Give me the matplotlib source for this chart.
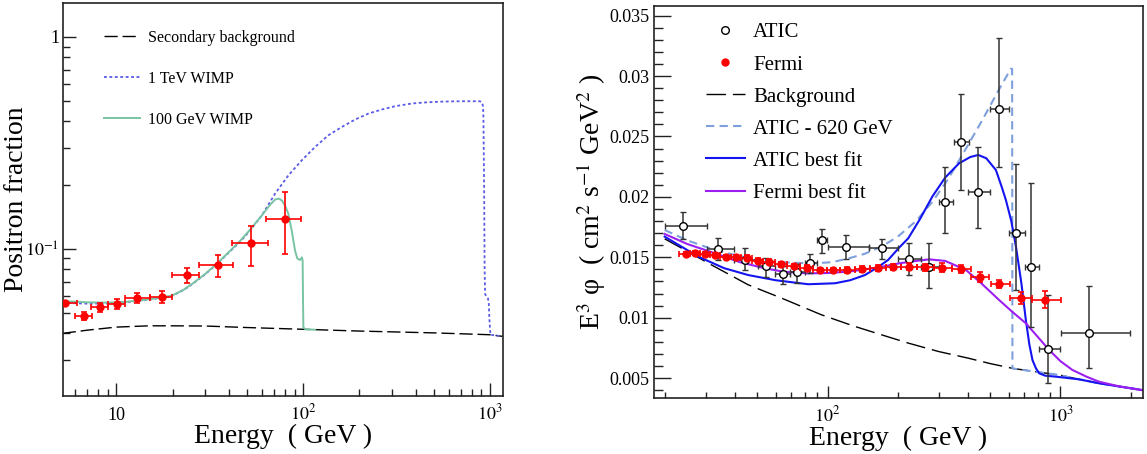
import matplotlib
matplotlib.use('Agg')
import matplotlib.pyplot as plt
from matplotlib.ticker import FuncFormatter, LogLocator, NullFormatter, MultipleLocator, FixedLocator
from matplotlib.lines import Line2D
import numpy as np

plt.rcParams['font.family'] = ['Liberation Serif', 'DejaVu Serif']
plt.rcParams['mathtext.fontset'] = 'stix'

# ---------------- Left panel data (positron fraction) ----------------
pamela_E = [5.31, 6.75, 8.18, 10.1, 12.95, 17.5, 23.8, 35.0, 52.7, 80.2]
pamela_frac = [0.0553, 0.0483, 0.0529, 0.0546, 0.0587, 0.0590, 0.0749, 0.0838, 0.1064, 0.138]
pamela_Elo = [5.17, 6.01, 7.30, 9.06, 11.14, 15.1, 19.9, 27.8, 41.4, 62.9]
pamela_Ehi = [6.14, 7.38, 9.06, 11.17, 15.1, 19.9, 27.8, 42.3, 64.8, 97.9]
pamela_lo = [0.0540, 0.0461, 0.0504, 0.0518, 0.0556, 0.0553, 0.0692, 0.0738, 0.0831, 0.0944]
pamela_hi = [0.0568, 0.0504, 0.0553, 0.0577, 0.0620, 0.0633, 0.0808, 0.0933, 0.128, 0.185]

sec_E = [5.17, 7, 10, 15, 20, 30, 50, 100, 200, 500, 1000, 1170]
sec_frac = [0.0399, 0.0413, 0.0427, 0.0433, 0.0433, 0.0432, 0.0425, 0.0417, 0.0409, 0.0401, 0.0393, 0.0386]

tev_E = [5.17, 7, 9, 11, 13, 15.5, 18, 20, 23, 26, 30, 34.4, 40, 46, 52, 60.2, 70.9, 83.6, 98.5,
         116.1, 136.9, 161.3, 190, 224, 264, 311, 382, 469, 576, 693, 881, 905, 918, 922, 930,
         936, 942, 955, 975, 985, 992, 1005, 1170]
tev_frac = [0.0556, 0.0551, 0.0552, 0.0558, 0.0567, 0.0578, 0.0590, 0.0601, 0.0640, 0.0690, 0.0760,
            0.0844, 0.0960, 0.108, 0.122, 0.144, 0.1825, 0.2227, 0.262, 0.303, 0.344, 0.376, 0.4076,
            0.435, 0.4544, 0.471, 0.485, 0.492, 0.4956, 0.497, 0.497, 0.492, 0.470, 0.420, 0.200,
            0.080, 0.0610, 0.0600, 0.0583, 0.0560, 0.0470, 0.0393, 0.0386]

gev_E = [5.17, 7, 9, 11, 13, 15.5, 18, 20, 23, 26, 30, 34.4, 40, 46, 52, 60.2, 66, 70.9, 74, 77,
         80, 83.2, 86.8, 90.4, 93, 96.1, 98.5, 99.4, 99.8, 100.3, 103, 116]
gev_frac = [0.0567, 0.0559, 0.0557, 0.0561, 0.0569, 0.0580, 0.0592, 0.0603, 0.0642, 0.0692, 0.0763,
            0.0847, 0.0965, 0.109, 0.123, 0.144, 0.160, 0.171, 0.1725, 0.169, 0.160, 0.147, 0.1226,
            0.0986, 0.0901, 0.0885, 0.0911, 0.088, 0.060, 0.0425, 0.0417, 0.0415]

# ---------------- Right panel data (E^3 flux) ----------------
atic_E = [23.9, 34.0, 44.2, 54.2, 64.1, 74.1, 84.5, 94.3, 119.5, 171.8, 222.7, 273.3, 320, 373.8,
          442, 542, 644, 746, 888, 1328]
atic_val = [0.01759, 0.01566, 0.01478, 0.01428, 0.01362, 0.01376, 0.0145, 0.01643, 0.01588, 0.01575,
            0.01486, 0.01422, 0.01955, 0.02457, 0.02041, 0.02728, 0.01699, 0.01422, 0.00741, 0.0087]
atic_Elo = [20.0, 30.3, 39.7, 50.4, 59.4, 69.0, 80.0, 89.7, 100.7, 150.6, 201, 253, 301, 350, 399,
            498, 603, 706, 810, 1003]
atic_Ehi = [30.3, 39.7, 50.4, 59.4, 69.0, 80.0, 89.7, 99.0, 150.6, 201, 252, 300, 347, 403, 498,
            599, 706, 810, 998, 1991]
atic_lo = [0.01649, 0.01478, 0.01395, 0.01340, 0.01277, 0.0129, 0.01373, 0.01538, 0.01483, 0.01483,
           0.01353, 0.01243, 0.0170, 0.02057, 0.0174, 0.02245, 0.01229, 0.0092, 0.00457, 0.00581]
atic_hi = [0.01873, 0.01657, 0.01575, 0.01492, 0.01428, 0.01442, 0.01525, 0.01732, 0.01685, 0.01654,
           0.01621, 0.01616, 0.0225, 0.02852, 0.02411, 0.03313, 0.0227, 0.02113, 0.01188, 0.01265]

fermi_E = [24.6, 27.0, 29.9, 32.9, 36.5, 40.3, 45.2, 50.1, 56.2, 63.1, 71.7, 81.3, 92.6, 105.8,
           121.8, 140.9, 165.2, 191.5, 224.3, 262.7, 309.6, 374.7, 450.9, 544, 676, 860]
fermi_val = [0.01525, 0.01533, 0.01525, 0.01519, 0.01505, 0.01505, 0.01497, 0.01472, 0.01464,
             0.01442, 0.01428, 0.01414, 0.01395, 0.01395, 0.01395, 0.01403, 0.01414, 0.01422,
             0.01422, 0.01417, 0.01414, 0.01401, 0.01339, 0.01279, 0.01161, 0.01147]
fermi_Elo = [23.0, 25.8, 28.4, 31.4, 34.6, 38.4, 42.7, 47.6, 53.1, 59.5, 67.2, 76.3, 86.8, 99.0,
             113.5, 131.0, 152.6, 177.9, 207.3, 242.7, 285.2, 340.6, 412, 502, 608, 758]
fermi_Ehi = [25.8, 28.4, 31.4, 34.6, 38.4, 42.7, 47.6, 53.1, 59.5, 67.2, 76.3, 86.8, 99.0, 113.5,
             131.0, 152.6, 177.9, 207.3, 242.7, 285.2, 340.6, 412, 494, 608, 758, 1009]
fermi_err = [0.00015, 0.00015, 0.00015, 0.00015, 0.00018, 0.00018, 0.00018, 0.0002, 0.0002, 0.0002,
             0.0002, 0.0002, 0.0002, 0.0002, 0.00022, 0.00022, 0.00025, 0.00025, 0.0003, 0.0003,
             0.00035, 0.00035, 0.0004, 0.0003, 0.0005, 0.0007]

bg_E = [20, 25, 30.8, 45.7, 63.5, 94.2, 130, 170.8, 222, 300, 400, 500, 622, 800, 988, 1200,
        1466, 1800, 2260]
bg_val = [0.01653, 0.0155, 0.01451, 0.01272, 0.01162, 0.01024, 0.0093, 0.00858, 0.0079, 0.0072,
          0.00666, 0.0062, 0.00581, 0.0055, 0.00526, 0.0049, 0.00457, 0.0043, 0.0040]

a620_E = [20, 25, 32.9, 42, 53.8, 70, 88.3, 105, 122.6, 145, 171, 200, 240, 282, 330, 393, 460,
          545, 612, 620, 622, 800, 988, 1200, 1466, 1800, 2260]
a620_val = [0.01726, 0.0164, 0.0156, 0.0151, 0.0147, 0.01455, 0.0145, 0.0146, 0.0149, 0.0153,
            0.0159, 0.0167, 0.0180, 0.0196, 0.0215, 0.0240, 0.0263, 0.0289, 0.0306, 0.0306,
            0.0058, 0.0055, 0.00526, 0.0049, 0.00457, 0.0043, 0.0040]

afit_E = [20, 27.9, 36, 45.7, 60, 82.6, 107.6, 125, 144.7, 165, 182, 203, 222, 250, 282, 320, 367,
          410, 443.6, 480, 528, 560, 583, 615, 644, 680, 710, 735, 758, 785, 810, 860, 955, 1200,
          1466, 1800, 2260]
afit_val = [0.01671, 0.01505, 0.0141, 0.01353, 0.0131, 0.01277, 0.01285, 0.0131, 0.01353, 0.0142,
            0.01478, 0.0158, 0.01657, 0.0182, 0.02004, 0.0216, 0.02278, 0.0233, 0.02347, 0.0232,
            0.02223, 0.0208, 0.01974, 0.0180, 0.01588, 0.0128, 0.00981, 0.0078, 0.0065, 0.0058,
            0.0054, 0.0052, 0.00512, 0.0049, 0.00457, 0.0043, 0.0040]

ffit_E = [20, 25, 32.9, 42, 53.8, 65, 82.6, 100, 122.6, 145, 171, 203, 240, 273, 320, 393, 460,
          545, 620, 710, 800, 894, 1000, 1126, 1300, 1466, 1800, 2260]
ffit_val = [0.01693, 0.0161, 0.01533, 0.0146, 0.01409, 0.0138, 0.01367, 0.0137, 0.01381, 0.0140,
            0.01422, 0.0145, 0.0147, 0.01483, 0.0147, 0.01395, 0.0128, 0.01147, 0.0105, 0.00954,
            0.0084, 0.00733, 0.0064, 0.00567, 0.0051, 0.0047, 0.0043, 0.0040]

# ---------------- Figure ----------------
fig = plt.figure(figsize=(11.47, 4.54), dpi=100)
axL = fig.add_axes([0.0547, 0.1278, 0.3836, 0.8662])
axR = fig.add_axes([0.5702, 0.1227, 0.4263, 0.8641])

frame_col = '#222222'
for ax in (axL, axR):
    for sp in ax.spines.values():
        sp.set_linewidth(1.2)
        sp.set_color(frame_col)
    ax.set_xscale('log')

# ----- Left -----
c_bg = 'black'
c_tev = '#5b5be6'
c_gev = '#78c4a2'
l_sec, = axL.plot(sec_E, sec_frac, color=c_bg, lw=1.0, dashes=(9.5, 3.5), zorder=2)
l_tev, = axL.plot(tev_E, tev_frac, color=c_tev, lw=1.3, dashes=(1.6, 1.4), zorder=2)
l_gev, = axL.plot(gev_E, gev_frac, color=c_gev, lw=1.4, zorder=2)

pE = np.array(pamela_E); pF = np.array(pamela_frac)
axL.errorbar(pE, pF, xerr=[pE - np.array(pamela_Elo), np.array(pamela_Ehi) - pE],
             yerr=[pF - np.array(pamela_lo), np.array(pamela_hi) - pF],
             fmt='o', color='#ff0000', ms=5, capsize=2, elinewidth=1.2, capthick=1.2, zorder=4,
             clip_on=True)

axL.set_xlim(5.17, 1170)
axL.set_ylim(0.0202, 1.45)
axL.set_yscale('log')

axL.xaxis.set_major_locator(FixedLocator([10, 100, 1000]))
axL.xaxis.set_minor_locator(LogLocator(base=10, subs=np.arange(2, 10)))
axL.xaxis.set_minor_formatter(NullFormatter())
xl_map = {10: '10', 100: '$10^{2}$', 1000: '$10^{3}$'}
axL.xaxis.set_major_formatter(FuncFormatter(lambda v, p: xl_map.get(int(round(v)), '')))
axL.yaxis.set_major_locator(FixedLocator([0.1, 1]))
axL.yaxis.set_minor_locator(LogLocator(base=10, subs=np.arange(2, 10)))
axL.yaxis.set_minor_formatter(NullFormatter())
axL.yaxis.set_major_formatter(FuncFormatter(lambda v, p: '1' if v > 0.5 else '$10^{-1}$'))

axL.tick_params(axis='both', which='both', direction='in', top=False, right=False,
                labelsize=13, colors=frame_col, width=1.0)
axL.tick_params(axis='both', which='major', length=9.5)
axL.tick_params(axis='both', which='minor', length=5)
axL.tick_params(axis='x', which='major', pad=17)
axL.tick_params(axis='y', which='major', pad=2.5)
for t in axL.get_xticklabels():
    t.set_va('baseline')
for t in axL.get_xticklabels() + axL.get_yticklabels():
    t.set_color('black')

axL.set_xlabel('Energy  ( GeV )', fontsize=20)
axL.xaxis.label.set_va('center')
axL.xaxis.set_label_coords(0.5, -0.104)
axL.set_ylabel('Positron fraction', fontsize=20)
axL.yaxis.label.set_va('center')
axL.yaxis.set_label_coords(-0.106, 0.5)

axL.legend([l_sec, l_tev, l_gev], ['Secondary background', '1 TeV WIMP', '100 GeV WIMP'],
           loc='upper left', bbox_to_anchor=(0.094, 0.931), frameon=False, fontsize=11.5,
           handlelength=2.25, handletextpad=0.5, labelspacing=1.57, borderpad=0, borderaxespad=0)

# ----- Right -----
c_620 = '#7fa0dc'
c_afit = '#1414f0'
c_ffit = '#9b1ff0'
r_bg, = axR.plot(bg_E, bg_val, color='black', lw=1.0, dashes=(14, 5), zorder=2)
r_620, = axR.plot(a620_E, a620_val, color=c_620, lw=1.5, dashes=(4, 2.5), zorder=2)
r_afit, = axR.plot(afit_E, afit_val, color=c_afit, lw=1.5, zorder=2)
r_ffit, = axR.plot(ffit_E, ffit_val, color=c_ffit, lw=1.5, zorder=2)

aE = np.array(atic_E); aV = np.array(atic_val)
axR.errorbar(aE, aV, xerr=[aE - np.array(atic_Elo), np.array(atic_Ehi) - aE],
             yerr=[aV - np.array(atic_lo), np.array(atic_hi) - aV],
             fmt='o', mfc='white', mec='black', mew=1.0, ms=5.5, ecolor='#333333',
             capsize=2, elinewidth=1.1, capthick=1.1, zorder=3)
fE = np.array(fermi_E); fV = np.array(fermi_val)
axR.errorbar(fE, fV, xerr=[fE - np.array(fermi_Elo), np.array(fermi_Ehi) - fE],
             yerr=fermi_err, fmt='o', color='#ff0000', ms=5, capsize=2, elinewidth=1.2,
             capthick=1.2, zorder=4)

axR.set_xlim(18.0, 2260)
axR.set_ylim(0.00333, 0.0358)
axR.xaxis.set_major_locator(FixedLocator([100, 1000]))
axR.xaxis.set_minor_locator(LogLocator(base=10, subs=np.arange(2, 10)))
axR.xaxis.set_minor_formatter(NullFormatter())
axR.xaxis.set_major_formatter(FuncFormatter(lambda v, p: xl_map.get(int(round(v)), '')))
axR.yaxis.set_major_locator(MultipleLocator(0.005))
axR.yaxis.set_minor_locator(MultipleLocator(0.001))
axR.yaxis.set_major_formatter(FuncFormatter(lambda v, p: ('%.3f' % v).rstrip('0')))

axR.tick_params(axis='both', which='both', direction='in', top=False, right=False,
                labelsize=13, colors=frame_col, width=1.0)
axR.tick_params(axis='y', which='major', length=12, pad=3)
axR.tick_params(axis='y', which='minor', length=6.5)
axR.tick_params(axis='x', which='major', length=8.6, pad=16.5)
axR.tick_params(axis='x', which='minor', length=4.3)
for t in axR.get_xticklabels():
    t.set_va('baseline')
for t in axR.get_xticklabels() + axR.get_yticklabels():
    t.set_color('black')

axR.set_xlabel('Energy  ( GeV )', fontsize=20)
axR.xaxis.label.set_va('center')
axR.xaxis.set_label_coords(0.5, -0.102)
axR.set_ylabel('E$^{3}$ \u03c6  ( cm$^{2}$ s$^{-1}$ GeV$^{2}$ )', fontsize=20)
axR.yaxis.label.set_va('center')
axR.yaxis.set_label_coords(-0.129, 0.5)

h_atic = Line2D([], [], ls='none', marker='o', mfc='white', mec='black', mew=1.0, ms=5.5)
h_fermi = Line2D([], [], ls='none', marker='o', color='#ff0000', ms=5)
axR.legend([h_atic, h_fermi, r_bg, r_620, r_afit, r_ffit],
           ['ATIC', 'Fermi', 'Background', 'ATIC - 620 GeV', 'ATIC best fit', 'Fermi best fit'],
           loc='upper left', bbox_to_anchor=(0.1063, 0.957), frameon=False, fontsize=15,
           handlelength=1.86, handletextpad=0.4, labelspacing=0.6, borderpad=0, borderaxespad=0)

fig.savefig('out.png', dpi=100)
